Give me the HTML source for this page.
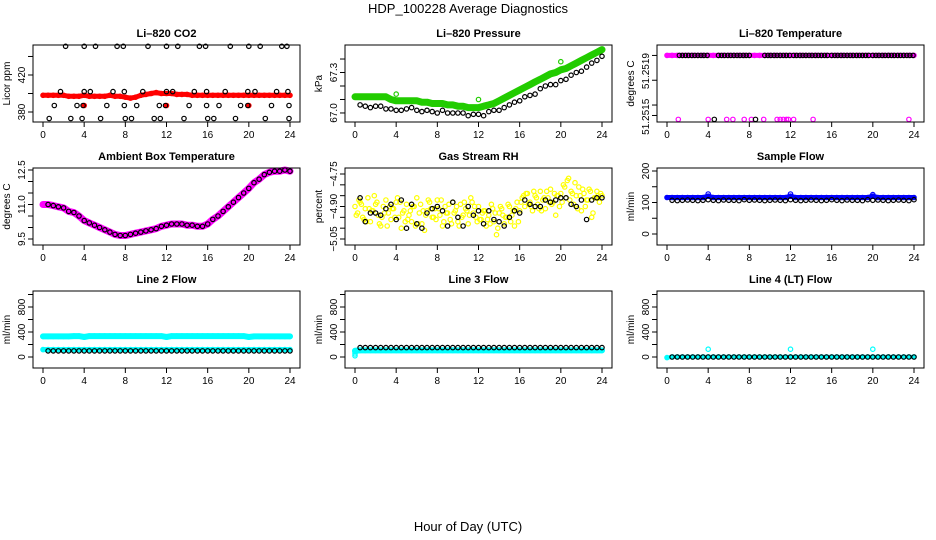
<!DOCTYPE html>
<html><head><meta charset="utf-8"><style>
html,body{margin:0;padding:0;background:#fff;}
svg{display:block;font-family:"Liberation Sans",sans-serif;}
</style></head><body>
<svg id="chart" width="936" height="540" viewBox="0 0 936 540" xmlns="http://www.w3.org/2000/svg">
<text x="468" y="13" text-anchor="middle" font-size="13">HDP_100228  Average Diagnostics</text>
<text x="468" y="531" text-anchor="middle" font-size="13">Hour of Day (UTC)</text>
</svg>
<script>
// ---- data ----
const hoursHalf = [0,0.5,1,1.5,2,2.5,3,3.5,4,4.5,5,5.5,6,6.5,7,7.5,8,8.5,9,9.5,10,10.5,11,11.5,12,12.5,13,13.5,14,14.5,15,15.5,16,16.5,17,17.5,18,18.5,19,19.5,20,20.5,21,21.5,22,22.5,23,23.5,24];
const hoursHalf2 = [0.5,1,1.5,2,2.5,3,3.5,4,4.5,5,5.5,6,6.5,7,7.5,8,8.5,9,9.5,10,10.5,11,11.5,12,12.5,13,13.5,14,14.5,15,15.5,16,16.5,17,17.5,18,18.5,19,19.5,20,20.5,21,21.5,22,22.5,23,23.5,24];
const xTicks = [0,4,8,12,16,20,24];

const co2Red = [398,398,398,398,398,397,397,397,398,397,397,397,397,398,397,397,396,395,396,398,399,400,401,400,400,400,399,399,399,398,398,398,398,398,398,398,398,398,398,398,398,398,398,398,398,398,398,398,398];
const co2RedOutH = [4,12,20];
const co2RedOut = [387,387,387];
const co2BlackH = [2.2,4.0,5.1,7.2,7.8,10.2,12.0,13.1,15.2,15.8,18.2,20.0,21.1,23.2,23.7, 1.7,4.0,4.6,6.8,7.9,9.7,12.0,12.6,14.7,15.9,17.7,19.9,20.6,22.7,23.8, 1.1,3.3,3.9,6.2,7.9,9.1,11.3,11.9,14.2,15.9,17.1,19.2,19.9,22.2,23.9, 0.6,2.7,3.8,5.6,8.0,8.6,10.8,11.4,13.7,16.0,16.6,18.7,21.6,23.9];
const co2Black = [451,451,451,451,451,451,451,451,451,451,451,451,451,451,451, 402,402,402,402,402,402,402,402,402,402,402,402,402,402,402, 387,387,387,387,387,387,387,387,387,387,387,387,387,387,387, 373,373,373,373,373,373,373,373,373,373,373,373,373,373];

const presGreen = [67.12,67.12,67.12,67.12,67.12,67.12,67.12,67.10,67.09,67.09,67.09,67.09,67.09,67.08,67.08,67.07,67.07,67.07,67.06,67.06,67.05,67.05,67.04,67.04,67.04,67.05,67.06,67.07,67.09,67.11,67.13,67.15,67.17,67.19,67.21,67.23,67.25,67.27,67.29,67.30,67.32,67.33,67.35,67.37,67.39,67.41,67.43,67.45,67.47];
const presGreenOutH = [4,12,20];
const presGreenOut = [67.14,67.10,67.38];
const presBlack = [67.06,67.05,67.04,67.05,67.05,67.03,67.03,67.02,67.02,67.03,67.04,67.02,67.01,67.02,67.01,67.0,67.02,67.0,67.0,67.0,67.0,66.98,66.99,66.99,66.98,67.01,67.02,67.02,67.04,67.06,67.08,67.09,67.12,67.13,67.14,67.18,67.2,67.21,67.21,67.24,67.25,67.28,67.3,67.31,67.34,67.37,67.39,67.42];

const tempTopMagentaH = [0,0.5,1,1.5,2,2.5,3,3.5,4,4.5,5,5.5,6,6.5,7,7.5,8,8.5,9,9.5,10,10.5,11,11.5,12,12.5,13,13.5,14,14.5,15,15.5,16,16.5,17,17.5,18,18.5,19,19.5,20,20.5,21,21.5,22,22.5,23,23.5,24];
const tempTopMagenta = [51.25192,51.25192,51.25192,51.25192,51.25192,51.25192,51.25192,51.25192,51.25192,51.25192,51.25192,51.25192,51.25192,51.25192,51.25192,51.25192,51.25192,51.25192,51.25192,51.25192,51.25192,51.25192,51.25192,51.25192,51.25192,51.25192,51.25192,51.25192,51.25192,51.25192,51.25192,51.25192,51.25192,51.25192,51.25192,51.25192,51.25192,51.25192,51.25192,51.25192,51.25192,51.25192,51.25192,51.25192,51.25192,51.25192,51.25192,51.25192,51.25192];
const tempTopBlackH = [1.2,1.5,1.8,2.1,2.4,2.7,3.0,3.3,3.6,3.9,5.0,5.3,5.6,5.9,6.2,6.5,6.8,7.1,7.4,7.7,8.0,9.5,9.8,10.1,10.4,10.7,11.0,11.3,11.6,11.9,12.3,12.6,12.9,13.2,13.5,13.8,14.1,14.4,14.7,15.0,15.3,15.6,16.0,16.3,16.6,16.9,17.2,17.5,17.8,18.1,18.4,18.7,19.0,19.3,19.6,20.0,20.3,20.6,20.9,21.2,21.5,21.8,22.1,22.4,22.7,23.0,23.3,23.6,23.9];
const tempLowMagentaH = [1.1,4.0,5.8,6.4,7.5,8.2,9.4,10.7,11.0,11.3,11.6,11.8,12.3,14.2,23.5];
const tempLowMagenta = [51.25143,51.25143,51.25143,51.25143,51.25143,51.25143,51.25143,51.25143,51.25143,51.25143,51.25143,51.25143,51.25143,51.25143,51.25143];
const tempLowBlackH = [4.6,8.6];
const tempLowBlack = [51.25143,51.25143];

const ambient = [11.0,11.0,10.95,10.9,10.85,10.7,10.65,10.5,10.3,10.2,10.1,10.0,9.9,9.8,9.7,9.65,9.65,9.7,9.75,9.8,9.85,9.9,9.95,10.05,10.1,10.15,10.15,10.15,10.1,10.1,10.05,10.05,10.15,10.35,10.5,10.7,10.9,11.1,11.3,11.5,11.7,11.95,12.1,12.3,12.4,12.45,12.45,12.5,12.45];

const rhYellowA = [-4.90,-4.93,-4.88,-4.95,-4.91,-4.86,-4.97,-4.92,-4.89,-4.94,-4.99,-4.90,-4.87,-4.93,-4.96,-4.91,-4.88,-4.95,-5.00,-4.92,-4.89,-4.94,-4.97,-4.90,-4.86,-4.93,-4.98,-5.01,-4.92,-4.88,-4.95,-4.91,-4.87,-4.94,-4.99,-4.90,-4.93,-4.96,-4.88,-4.92,-4.97,-4.89,-4.94,-4.91,-4.98,-4.86,-4.93,-4.95,-4.90,-4.96,-4.92,-4.99,-4.94,-4.89,-4.97,-5.03,-4.93,-4.91,-4.98,-4.95,-4.90,-4.94,-4.99,-4.88,-4.92,-4.86,-4.90,-4.84,-4.88,-4.92,-4.85,-4.89,-4.83,-4.87,-4.91,-4.86,-4.82,-4.88,-4.94,-4.85,-4.84,-4.80,-4.86,-4.77,-4.83,-4.89,-4.85,-4.81,-4.92,-4.84,-4.87,-4.82,-4.95,-4.86,-4.83,-4.88,-4.85];
const rhYellowB = [-4.87,-4.96,-4.91,-4.85,-4.98,-4.93,-4.90,-4.95,-4.88,-4.97,-4.92,-4.99,-4.89,-4.94,-4.91,-4.96,-4.87,-4.93,-4.98,-4.90,-4.95,-4.92,-4.88,-4.97,-4.93,-4.96,-4.91,-5.00,-4.94,-4.89,-4.92,-4.97,-4.85,-4.89,-4.83,-4.91,-4.86,-4.88,-4.84,-4.90,-4.81,-4.87,-4.79,-4.85,-4.90,-4.83,-4.86,-4.84];
const rhYellowC = [-4.94,-4.89,-4.97,-4.92,-4.88,-4.95,-4.99,-4.91,-4.86,-4.93,-4.96,-4.90,-4.98,-4.92,-4.87,-4.95,-4.91,-4.97,-4.89,-4.93,-4.99,-4.88,-4.94,-4.90,-4.96,-4.92,-4.98,-4.93,-4.90,-4.95,-4.97,-4.91,-4.88,-4.84,-4.90,-4.86,-4.92,-4.83,-4.89,-4.85,-4.88,-4.78,-4.84,-4.91,-4.82,-4.87,-4.93,-4.85];
const rhBlack = [-4.86,-4.97,-4.93,-4.93,-4.94,-4.91,-4.89,-4.96,-4.87,-5.0,-4.89,-4.98,-5.0,-4.93,-4.91,-4.9,-4.92,-4.99,-4.88,-4.95,-4.99,-4.9,-4.94,-4.92,-4.98,-4.92,-4.96,-4.97,-4.99,-4.95,-4.92,-4.93,-4.87,-4.89,-4.9,-4.9,-4.87,-4.88,-4.87,-4.86,-4.86,-4.89,-4.9,-4.87,-4.96,-4.87,-4.86,-4.86];

const sampleBlue = [116,116,116,116,116,116,116,116,120,116,116,116,116,116,116,116,116,116,116,116,116,116,116,116,120,116,116,116,116,116,116,116,116,116,116,116,116,116,116,116,120,116,116,116,116,116,116,116,116];
const sampleBlueOutH = [4,12,20];
const sampleBlueOut = [127,127,125];
const sampleBlack = [107,106,107,108,107,106,107,109,107,106,108,107,107,106,109,107,108,107,106,107,108,107,106,109,107,106,107,108,107,106,107,109,107,106,108,107,107,106,109,107,108,107,106,107,108,107,106,109];

const line2CyanHi = [330,330,330,330,330,330,335,335,320,335,335,335,335,335,335,335,335,335,335,335,335,335,335,335,320,335,335,335,335,335,335,335,335,335,335,335,335,335,335,335,320,330,330,330,330,330,330,330,330];
const line2CyanLo = [118,118,118,118,118,118,118,118,118,118,118,118,118,118,118,118,118,118,118,118,118,118,118,118,118,118,118,118,118,118,118,118,118,118,118,118,118,118,118,118,118,118,118,118,118,118,118,118,118];
const line2Black = [98,98,98,98,98,98,98,98,98,98,98,98,98,98,98,98,98,98,98,98,98,98,98,98,98,98,98,98,98,98,98,98,98,98,98,98,98,98,98,98,98,98,98,98,98,98,98,98];

const line3Cyan = [100,105,105,105,105,105,105,105,105,105,105,105,105,105,105,105,105,105,105,105,105,105,105,105,105,105,105,105,105,105,105,105,105,105,105,105,105,105,105,105,105,105,105,105,105,105,105,105,105];
const line3CyanStartH = [0,0,0];
const line3CyanStart = [20,50,80];
const line3Black = [150,150,150,150,150,150,150,150,150,150,150,150,150,150,150,150,150,150,150,150,150,150,150,150,150,150,150,150,150,150,150,150,150,150,150,150,150,150,150,150,150,150,150,150,150,150,150,150];

const line4Cyan = [-10,2,2,2,2,2,2,2,2,2,2,2,2,2,2,2,2,2,2,2,2,2,2,2,2,2,2,2,2,2,2,2,2,2,2,2,2,2,2,2,2,2,2,2,2,2,2,2,2];
const line4CyanOutH = [4,12,20];
const line4CyanOut = [125,125,125];
const line4Black = [0,0,0,0,0,0,0,0,0,0,0,0,0,0,0,0,0,0,0,0,0,0,0,0,0,0,0,0,0,0,0,0,0,0,0,0,0,0,0,0,0,0,0,0,0,0,0,0];

// ---- drawing ----
const NS = 'http://www.w3.org/2000/svg';
const svg = document.getElementById('chart');
const colLeft = [33,345,657], rowTop = [45,168,291], PW = 267, PH = 77;
function mk(tag, attrs, parent){ const e=document.createElementNS(NS,tag); for(const k in attrs) e.setAttribute(k,attrs[k]); (parent||svg).appendChild(e); return e; }

const panels = [
 {c:0,r:0,key:'co2',title:'Li\u2013820 CO2',ylab:'Licor ppm',vb:369.2,vt:452.4,ticks:[380,400,420,440],labs:[[380,'380'],[420,'420']],series:[
   {xs:hoursHalf,ys:co2Red,color:'#ff0000',band:5},{xs:co2RedOutH,ys:co2RedOut,color:'#ff0000',fill:true},{xs:co2BlackH,ys:co2Black,color:'#000'}]},
 {c:1,r:0,key:'pressure',title:'Li\u2013820 Pressure',ylab:'kPa',vb:66.933,vt:67.504,ticks:[67.0,67.1,67.2,67.3,67.4],labs:[[67.0,'67.0'],[67.3,'67.3']],series:[
   {xs:hoursHalf,ys:presGreen,color:'#22cc00',band:7},{xs:presGreenOutH,ys:presGreenOut,color:'#22cc00'},{xs:hoursHalf2,ys:presBlack,color:'#000'}]},
 {c:2,r:0,key:'temperature',title:'Li\u2013820 Temperature',ylab:'degrees C',vb:51.25141,vt:51.25200,ticks:[51.25192,51.25173,51.25154,51.25146],labs:[[51.25180,'51.2519'],[51.25145,'51.2515']],series:[
   {xs:tempTopMagentaH,ys:tempTopMagenta,color:'#ff00ff',band:5},{xs:tempTopBlackH,ys:tempTopBlackH.map(()=>tempTopMagenta[0]),color:'#000'},{xs:tempLowMagentaH,ys:tempLowMagenta,color:'#ff00ff'},{xs:tempLowBlackH,ys:tempLowBlack,color:'#000'}]},
 {c:0,r:1,key:'ambient',title:'Ambient Box Temperature',ylab:'degrees C',vb:9.239,vt:12.587,ticks:[9.5,10,10.5,11,11.5,12,12.5],labs:[[9.5,'9.5'],[11,'11.0'],[12.5,'12.5']],series:[
   {xs:hoursHalf,ys:ambient,color:'#ff00ff',band:7},{xs:hoursHalf2,ys:ambient.slice(1),color:'#000'}]},
 {c:1,r:1,key:'rh',title:'Gas Stream RH',ylab:'percent',vb:-5.0777,vt:-4.7223,ticks:[-4.75,-4.8,-4.85,-4.9,-4.95,-5.0,-5.05],labs:[[-4.75,'\u22124.75'],[-4.9,'\u22124.90'],[-5.05,'\u22125.05']],series:[
   {xs:rhYellowA.map((v,i)=>i*0.25),ys:rhYellowA,color:'#ffff00'},{xs:rhYellowB.map((v,i)=>0.375+i*0.5),ys:rhYellowB,color:'#ffff00'},{xs:rhYellowC.map((v,i)=>0.125+i*0.5),ys:rhYellowC,color:'#ffff00'},{xs:hoursHalf2,ys:rhBlack,color:'#000'}]},
 {c:2,r:1,key:'sample-flow',title:'Sample Flow',ylab:'ml/min',vb:-34.9,vt:209.5,ticks:[0,50,100,150,200],labs:[[0,'0'],[100,'100'],[200,'200']],series:[
   {xs:hoursHalf,ys:sampleBlue,color:'#0000ff',band:5},{xs:sampleBlueOutH,ys:sampleBlueOut,color:'#0000ff'},{xs:hoursHalf2,ys:sampleBlack,color:'#000'}]},
 {c:0,r:2,key:'line2',title:'Line 2 Flow',ylab:'ml/min',vb:-176,vt:1056,ticks:[0,200,400,600,800,1000],labs:[[0,'0'],[400,'400'],[800,'800']],series:[
   {xs:hoursHalf,ys:line2CyanHi,color:'#00ffff',band:6},{xs:hoursHalf,ys:line2CyanLo,color:'#00ffff',band:5},{xs:hoursHalf2,ys:line2Black,color:'#000'}]},
 {c:1,r:2,key:'line3',title:'Line 3 Flow',ylab:'ml/min',vb:-176,vt:1056,ticks:[0,200,400,600,800,1000],labs:[[0,'0'],[400,'400'],[800,'800']],series:[
   {xs:hoursHalf,ys:line3Cyan,color:'#00ffff',band:6},{xs:line3CyanStartH,ys:line3CyanStart,color:'#00ffff'},{xs:hoursHalf2,ys:line3Black,color:'#000'}]},
 {c:2,r:2,key:'line4',title:'Line 4 (LT) Flow',ylab:'ml/min',vb:-176,vt:1056,ticks:[0,200,400,600,800,1000],labs:[[0,'0'],[400,'400'],[800,'800']],series:[
   {xs:hoursHalf,ys:line4Cyan,color:'#00ffff',band:4},{xs:line4CyanOutH,ys:line4CyanOut,color:'#00ffff'},{xs:hoursHalf2,ys:line4Black,color:'#000'}]}
];

panels.forEach(p=>{
  const L=colLeft[p.c], T=rowTop[p.r], B=T+PH, R=L+PW;
  const xs = h => L+10+h*(247/24);
  const ys = v => B-(v-p.vb)/(p.vt-p.vb)*PH;
  const g = mk('g',{});
  
  
  const t = mk('text',{x:(L+R)/2,y:T-8,'text-anchor':'middle','font-size':11,'font-weight':'bold'},g);
  t.textContent=p.title;
  
  
  const yl = mk('text',{transform:`translate(${L-23},${(T+B)/2}) rotate(-90)`,'text-anchor':'middle','font-size':10},g);
  yl.textContent=p.ylab;
  
  
  const sg = mk('g',{},g);
  
  
  p.series.forEach(s=>{
    if(s.band){
      const pts = s.xs.map((h,i)=>xs(h).toFixed(1)+','+ys(s.ys[i]).toFixed(1)).join(' ');
      const pl = mk('polyline',{points:pts,fill:'none',stroke:s.color,'stroke-width':s.band,'stroke-linejoin':'round','stroke-linecap':'round'},sg);
      
      
    }
    s.xs.forEach((h,i)=>{
      const cc = mk('circle',{cx:xs(h).toFixed(1),cy:ys(s.ys[i]).toFixed(1),r:2.2,fill:s.fill?s.color:'none',stroke:s.color,'stroke-width':1.2},sg);
      
      
    });
  });
  const bx = mk('rect',{x:L,y:T,width:PW,height:PH,fill:'none',stroke:'#000','stroke-width':1},g);
  
  
  mk('line',{x1:xs(0),x2:xs(24),y1:B,y2:B,stroke:'#000'},g);
  xTicks.forEach(h=>{
    mk('line',{x1:xs(h),x2:xs(h),y1:B,y2:B+5,stroke:'#000'},g);
    const tl = mk('text',{x:xs(h),y:B+16,'text-anchor':'middle','font-size':10},g);
    tl.textContent=h;
    
    
  });
  p.ticks.forEach(v=>{
    const y=ys(v); if(y<T-1||y>B+1) return;
    mk('line',{x1:L-5,x2:L,y1:y,y2:y,stroke:'#000'},g);
  });
  p.labs.forEach(([v,lab])=>{
    const tl = mk('text',{transform:`translate(${L-8},${ys(v)}) rotate(-90)`,'text-anchor':'middle','font-size':10},g);
    tl.textContent=lab;
    
    
  });
});
</script>
</body></html>
